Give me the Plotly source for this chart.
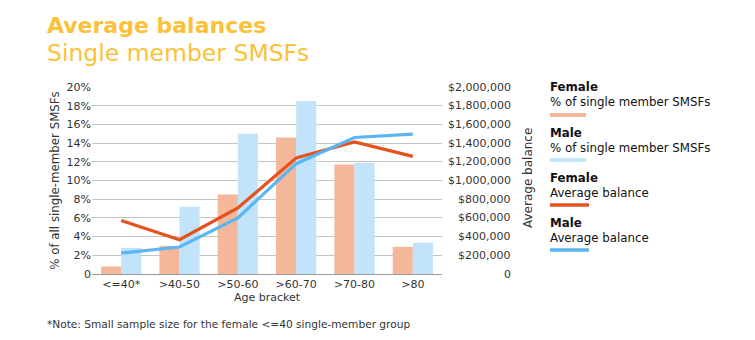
import plotly.graph_objects as go

# Age brackets and values
age_brackets = ["<=40*", ">40-50", ">50-60", ">60-70", ">70-80", ">80"]
female_pct = [0.8, 3.0, 8.5, 14.6, 11.7, 2.9]
male_pct = [2.8, 7.2, 15.0, 18.5, 11.9, 3.35]
female_balance = [573000, 367000, 706000, 1240000, 1412000, 1258000]
male_balance = [224000, 289000, 600000, 1180000, 1460000, 1497000]

left_ticks = [0, 2, 4, 6, 8, 10, 12, 14, 16, 18, 20]
left_ticktext = ["0", "2%", "4%", "6%", "8%", "10%", "12%", "14%", "16%", "18%", "20%"]
right_ticks = [0, 200000, 400000, 600000, 800000, 1000000, 1200000, 1400000,
               1600000, 1800000, 2000000]
right_ticktext = ["0", "$200,000", "$400,000", "$600,000", "$800,000", "$1,000,000",
                  "$1,200,000", "$1,400,000", "$1,600,000", "$1,800,000", "$2,000,000"]

legend_items = [
    ("Female", "% of single member SMSFs", "#F4B79A", "bar"),
    ("Male", "% of single member SMSFs", "#C2E4FB", "bar"),
    ("Female", "Average balance", "#E4531E", "line"),
    ("Male", "Average balance", "#5AB6F2", "line"),
]

FEMALE_BAR, MALE_BAR, FEMALE_LINE, MALE_LINE = (c for _, _, c, _ in legend_items)
TITLE_COLOR = "#FCC13A"
TEXT = "#333333"
FONT = "DejaVu Sans"

# plot area geometry in pixels
W, H = 755, 340
L, R, T, B = 92, 313, 87, 66
PW, PH = W - L - R, H - T - B


def px(x):
    return (x - L) / PW


def py(y):
    return (H - B - y) / PH


fig = go.Figure()
fig.add_trace(go.Bar(x=age_brackets, y=female_pct, marker_color=FEMALE_BAR,
                     marker_line_width=0, name="Female %"))
fig.add_trace(go.Bar(x=age_brackets, y=male_pct, marker_color=MALE_BAR,
                     marker_line_width=0, name="Male %"))
fig.add_trace(go.Scatter(x=age_brackets, y=female_balance, yaxis="y2", mode="lines",
                         line=dict(color=FEMALE_LINE, width=3.2), name="Female balance"))
fig.add_trace(go.Scatter(x=age_brackets, y=male_balance, yaxis="y2", mode="lines",
                         line=dict(color=MALE_LINE, width=3.2), name="Male balance"))

fig.update_layout(
    width=W, height=H,
    margin=dict(l=L, r=R, t=T, b=B),
    paper_bgcolor="white", plot_bgcolor="white",
    showlegend=False,
    barmode="group", bargap=0.31, bargroupgap=0,
    font=dict(family=FONT, color=TEXT, size=11),
    xaxis=dict(showgrid=False, showline=True, linecolor="#9a9a9a", linewidth=1,
               ticks="", tickfont=dict(size=11, color=TEXT),
               title=dict(text="Age bracket", font=dict(size=11, color=TEXT), standoff=3)),
    yaxis=dict(range=[0, 20], tickvals=left_ticks, ticktext=left_ticktext,
               showgrid=True, gridcolor="#c4c4c4", gridwidth=1, zeroline=False,
               ticks="", tickfont=dict(size=11, color=TEXT),
               title=dict(text="% of all single-member SMSFs",
                          font=dict(size=11.8, color=TEXT), standoff=4)),
    yaxis2=dict(range=[0, 2000000], overlaying="y", side="right",
                tickvals=right_ticks, showticklabels=False, showgrid=False,
                zeroline=False, ticks=""),
)

# Right-aligned balance tick labels
for v, t in zip(right_ticks, right_ticktext):
    fig.add_annotation(x=px(513), xref="paper", y=v, yref="y2", xanchor="right",
                       text=t, showarrow=False, font=dict(size=11, color=TEXT))

# Right axis title
fig.add_annotation(x=px(528), xref="paper", y=py(178), yref="paper", xanchor="center",
                   yanchor="middle", text="Average balance", textangle=-90,
                   showarrow=False, font=dict(size=12, color=TEXT))

# Title and subtitle
fig.add_annotation(x=px(45), xref="paper", y=py(25), yref="paper",
                   xanchor="left", yanchor="middle", text="<b>Average balances</b>",
                   showarrow=False, font=dict(size=22, color=TITLE_COLOR))
fig.add_annotation(x=px(45), xref="paper", y=py(53), yref="paper",
                   xanchor="left", yanchor="middle", text="Single member SMSFs",
                   showarrow=False, font=dict(size=23.5, color=TITLE_COLOR))

# Footnote
fig.add_annotation(x=px(45), xref="paper", y=py(324), yref="paper",
                   xanchor="left", yanchor="middle",
                   text="*Note: Small sample size for the female <=40 single-member group",
                   showarrow=False, font=dict(size=10.6, color=TEXT))

# Custom legend at the right
for i, (head, sub, color, kind) in enumerate(legend_items):
    top = 95 + i * 45
    fig.add_annotation(x=px(548), xref="paper", y=py(top), yref="paper",
                       xanchor="left", yanchor="middle", align="left",
                       text="<b>" + head + "</b><br>" + sub,
                       showarrow=False, font=dict(size=11.8, color="#111111"))
    sy = py(top + 20)
    fig.add_shape(type="line", xref="paper", yref="paper",
                  x0=px(550), x1=px(586 if kind == "bar" else 589), y0=sy, y1=sy,
                  line=dict(color=color, width=4 if kind == "bar" else 3.5))

fig.write_html("out.html")
